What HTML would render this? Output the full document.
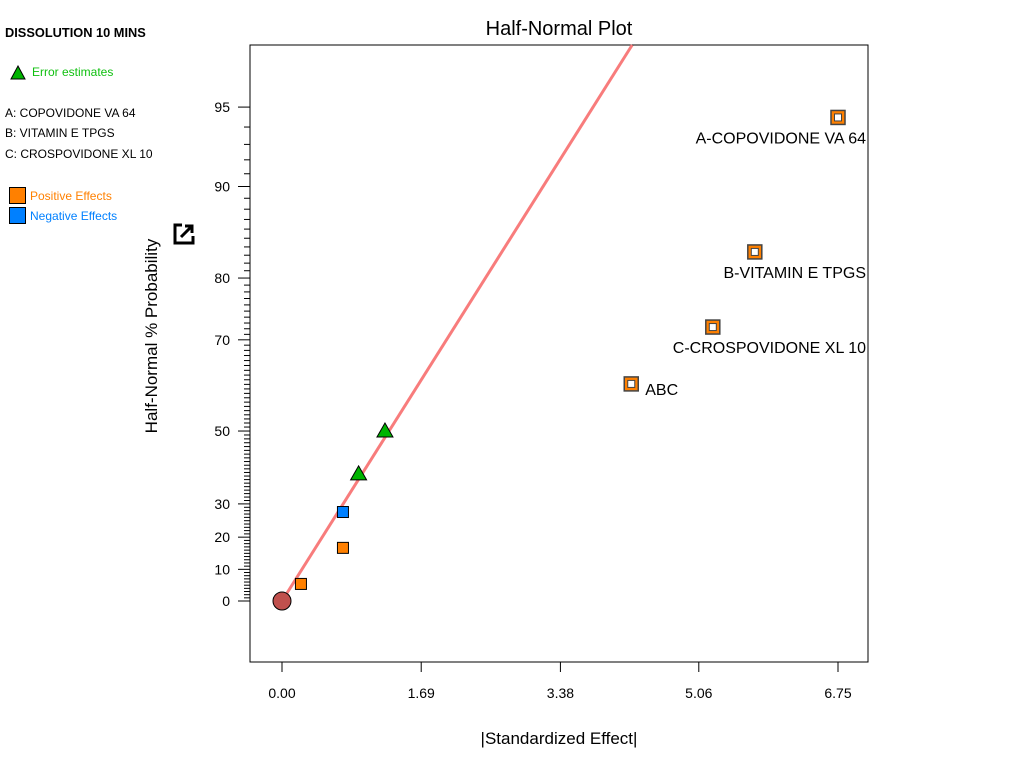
<!DOCTYPE html>
<html><head><meta charset="utf-8"><style>
body{margin:0;background:#fff;width:1024px;height:768px;overflow:hidden;font-family:"Liberation Sans","DejaVu Sans",sans-serif}
.side{position:absolute;left:5px;font-size:12px;color:#000}
</style></head><body>
<div class="side" style="top:25px;font-weight:bold;font-size:12.8px">DISSOLUTION 10 MINS</div>
<svg style="position:absolute;left:10px;top:65px" width="16" height="15"><polygon points="8,1 15,14 1,14" fill="#00b400" stroke="#000"/></svg>
<div class="side" style="top:65px;left:32px;color:#10c010">Error estimates</div>
<div class="side" style="top:106px">A: COPOVIDONE VA 64</div>
<div class="side" style="top:126px">B: VITAMIN E TPGS</div>
<div class="side" style="top:147px">C: CROSPOVIDONE XL 10</div>
<div style="position:absolute;left:9px;top:187px;width:15px;height:15px;background:#ff8000;border:1px solid #000"></div>
<div class="side" style="top:189px;left:30px;color:#ff8000">Positive Effects</div>
<div style="position:absolute;left:9px;top:207px;width:15px;height:15px;background:#0080ff;border:1px solid #000"></div>
<div class="side" style="top:209px;left:30px;color:#0080ff">Negative Effects</div>
<svg id="c" width="1024" height="768" style="position:absolute;left:0;top:0"></svg>
<script>
const tickProbs=[0,10,20,30,50,70,80,90,95];
const ptX=[0.00,0.23,0.74,0.74,0.93,1.25,4.24,5.23,5.74,6.75];
const ptP=[0,5.4,16.7,27.6,38.6,50,61.1,72.3,83.4,94.5];
const ptType=['origin','pos','pos','neg','err','err','posbig','posbig','posbig','posbig'];
const ptLabel=['','','','','','','ABC','C-CROSPOVIDONE XL 10','B-VITAMIN E TPGS','A-COPOVIDONE VA 64'];
const xTicks=[0,1.69,3.38,5.06,6.75];
const lineSlope=0.519;
function ninv(p){const a=[-39.6968302866538,220.946098424521,-275.928510446969,138.357751867269,-30.6647980661472,2.50662827745924],b=[-54.4760987982241,161.585836858041,-155.698979859887,66.8013118877197,-13.2806815528857],c=[-0.00778489400243029,-0.322396458041136,-2.40075827716184,-2.54973253934373,4.37466414146497,2.93816398269878],d=[0.00778469570904146,0.32246712907004,2.445134137143,3.75440866190742];
if(p<0.02425){const q=Math.sqrt(-2*Math.log(p));return(((((c[0]*q+c[1])*q+c[2])*q+c[3])*q+c[4])*q+c[5])/((((d[0]*q+d[1])*q+d[2])*q+d[3])*q+1);}
if(p>1-0.02425){const q=Math.sqrt(-2*Math.log(1-p));return-(((((c[0]*q+c[1])*q+c[2])*q+c[3])*q+c[4])*q+c[5])/((((d[0]*q+d[1])*q+d[2])*q+d[3])*q+1);}
const q=p-0.5,r=q*q;return(((((a[0]*r+a[1])*r+a[2])*r+a[3])*r+a[4])*r+a[5])*q/(((((b[0]*r+b[1])*r+b[2])*r+b[3])*r+b[4])*r+1);}
const L=250,R=868,T=45,B=662;
const X=v=>282+v*(556/6.75);
const YZ=z=>601-z*252;
const Y=p=>YZ(p<=0?0:ninv(0.5+p/200));
const s=document.getElementById('c');const NS='http://www.w3.org/2000/svg';
function mk(t,at,par){const e=document.createElementNS(NS,t);for(const k in at)e.setAttribute(k,at[k]);(par||s).appendChild(e);return e;}
let e;
e=mk('rect',{x:L,y:T,width:R-L,height:B-T,fill:'none',stroke:'#000','stroke-width':1});


e=mk('text',{x:559,y:35,'text-anchor':'middle','font-size':20});e.textContent='Half-Normal Plot';


for(let p=1;p<95;p++){if(tickProbs.includes(p))continue;const y=Y(p);
e=mk('line',{x1:L-6,x2:L,y1:y,y2:y,stroke:'#000','stroke-width':1});

}
tickProbs.forEach(p=>{const y=Y(p);
e=mk('line',{x1:L-12,x2:L,y1:y,y2:y,stroke:'#000'});


e=mk('text',{x:L-20,y:y+5,'text-anchor':'end','font-size':14});e.textContent=p;

});
xTicks.forEach(v=>{const x=X(v);
e=mk('line',{x1:x,x2:x,y1:B,y2:B+10,stroke:'#000'});


e=mk('text',{x:x,y:B+36,'text-anchor':'middle','font-size':14});e.textContent=v.toFixed(2);

});
e=mk('text',{x:559,y:744,'text-anchor':'middle','font-size':17});e.textContent='|Standardized Effect|';


e=mk('text',{x:157,y:336,'text-anchor':'middle','font-size':17,transform:'rotate(-90 157 336)'});e.textContent='Half-Normal % Probability';


const ic=mk('g',{transform:'translate(174,224)'});


mk('path',{d:'M8 1H1V19H19V12',fill:'none',stroke:'#000','stroke-width':3},ic);
mk('path',{d:'M7 13L17 3M11 2H18V9',fill:'none',stroke:'#000','stroke-width':3},ic);
const zTop=(601-T)/252, xTop=zTop/lineSlope;
e=mk('line',{x1:X(0),y1:YZ(0),x2:X(xTop),y2:YZ(zTop),stroke:'#f87c7c','stroke-width':3});


ptX.forEach((v,i)=>{const x=X(v),y=Y(ptP[i]),t=ptType[i];
if(t==='origin'){e=mk('circle',{cx:x,cy:y,r:9,fill:'#c0504d',stroke:'#000'});}
else if(t==='err'){e=mk('polygon',{points:`${x},${y-8} ${x+8},${y+6} ${x-8},${y+6}`,fill:'#00b400',stroke:'#000'});}
else if(t==='posbig'){e=mk('g',{});mk('rect',{x:x-7,y:y-7,width:14,height:14,fill:'#ff8000',stroke:'#444','stroke-width':1.5},e);mk('rect',{x:x-3.5,y:y-3.5,width:7,height:7,fill:'#fff',stroke:'#444'},e);}
else{e=mk('rect',{x:x-5.5,y:y-5.5,width:11,height:11,fill:t==='pos'?'#ff8000':'#0080ff',stroke:'#000'});}


if(ptLabel[i]){const lb=ptLabel[i]==='ABC'?mk('text',{x:x+14,y:y+11,'font-size':16}):mk('text',{x:866,y:y+26,'text-anchor':'end','font-size':16});
lb.textContent=ptLabel[i];

}
});
</script>
</body></html>
